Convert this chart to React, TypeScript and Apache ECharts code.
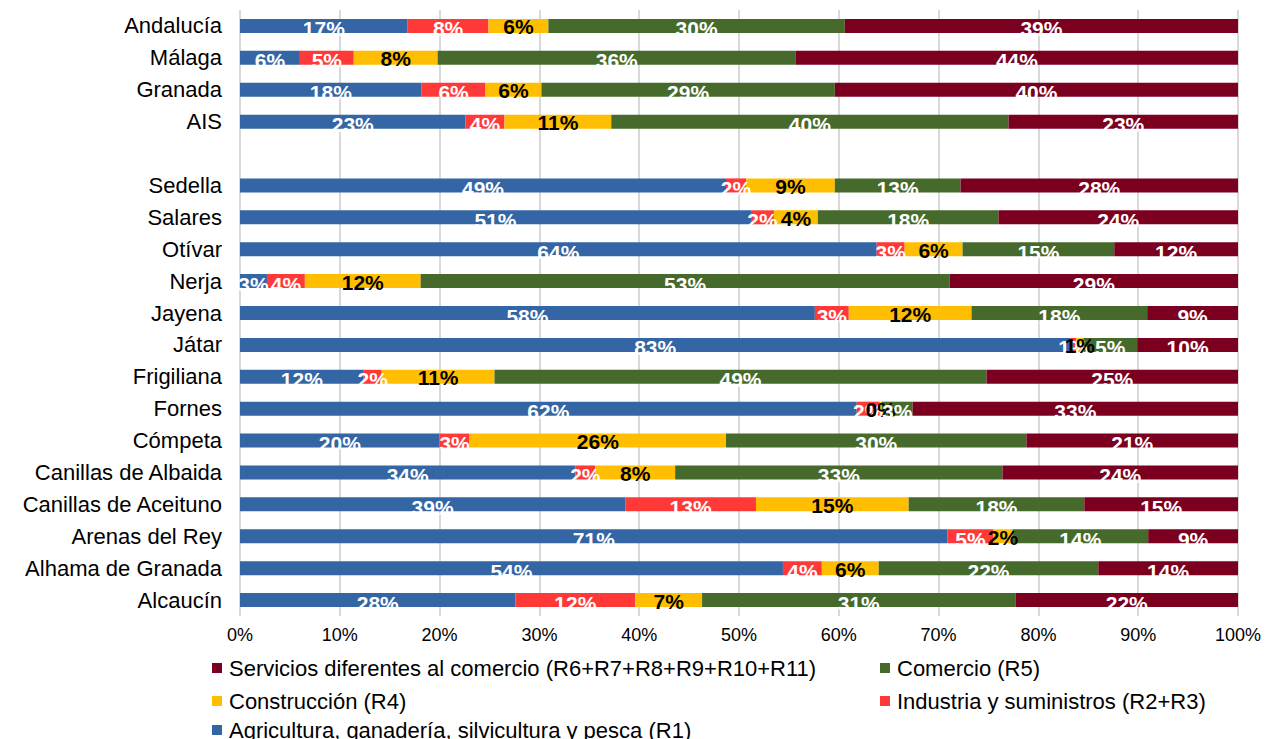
import React, { useEffect, useRef } from "react";
import * as echarts from "echarts";

const categories = [
  "Andalucía", "Málaga", "Granada", "AIS", "",
  "Sedella", "Salares", "Otívar", "Nerja", "Jayena", "Játar", "Frigiliana",
  "Fornes", "Cómpeta", "Canillas de Albaida", "Canillas de Aceituno",
  "Arenas del Rey", "Alhama de Granada", "Alcaucín",
];

const agricultura = [16.8, 6.0, 18.2, 22.6, null, 48.7, 51.2, 63.8, 2.7, 57.6, 83.2, 12.4, 61.8, 20.0, 33.6, 38.6, 70.9, 54.4, 27.6];
const industria = [8.1, 5.4, 6.4, 3.9, null, 2.0, 2.3, 2.8, 3.8, 3.4, 0.6, 1.8, 2.3, 3.0, 2.0, 13.1, 4.6, 3.9, 12.0];
const construccion = [6.0, 8.4, 5.6, 10.7, null, 8.9, 4.4, 5.8, 11.6, 12.3, 0.7, 11.3, 0.2, 25.7, 8.0, 15.3, 1.9, 5.7, 6.7];
const comercio = [29.7, 35.9, 29.4, 39.8, null, 12.6, 18.1, 15.2, 53.0, 17.6, 5.4, 49.3, 3.1, 30.1, 32.8, 17.6, 13.6, 22.0, 31.4];
const servicios = [39.4, 44.3, 40.4, 23.0, null, 27.8, 24.0, 12.4, 28.9, 9.1, 10.1, 25.2, 32.6, 21.2, 23.6, 15.4, 9.0, 14.0, 22.3];

const xTicks = ["0%", "10%", "20%", "30%", "40%", "50%", "60%", "70%", "80%", "90%", "100%"];

const names = {
  agr: "Agricultura, ganadería, silvicultura y pesca (R1)",
  ind: "Industria y suministros (R2+R3)",
  con: "Construcción (R4)",
  com: "Comercio (R5)",
  ser: "Servicios diferentes al comercio (R6+R7+R8+R9+R10+R11)",
};

const colors = {
  agr: "#3465a4",
  ind: "#ff3838",
  con: "#ffbf00",
  com: "#466a2b",
  ser: "#7b0020",
};

const FONT = "'Liberation Sans', Arial, sans-serif";

export default function App() {
  const ref = useRef<HTMLDivElement>(null);

  useEffect(() => {
    if (!ref.current) return;
    const chart = echarts.init(ref.current, null, { renderer: "svg" });

    const fmt = (p: any) =>
      p.value === null || p.value === undefined || p.value === "-" ? "" : Math.round(p.value) + "%";

    const mkSeries = (key: string, data: (number | null)[], dark: boolean) => ({
      name: (names as any)[key],
      type: "bar",
      stack: "total",
      barWidth: 14,
      data: data.map((v) => (v === null ? "-" : v)),
      itemStyle: { color: (colors as any)[key] },
      label: {
        show: true,
        position: "inside",
        formatter: fmt,
        color: dark ? "#000000" : "#ffffff",
        fontSize: 21,
        fontWeight: "bold",
        fontFamily: FONT,
        offset: dark ? [0, 1] : [0, 3],
      },
    });

    const legendItem = (key: string, left: number, top: number) => ({
      show: true,
      left,
      top,
      itemWidth: 10,
      itemHeight: 10,
      itemGap: 0,
      icon: "rect",
      data: [(names as any)[key]],
      textStyle: { fontSize: 22, fontFamily: FONT, color: "#000", padding: [0, 0, 0, 2] },
      selectedMode: false,
    });

    chart.setOption({
      animation: false,
      textStyle: { fontFamily: FONT },
      grid: { left: 240, right: 28, top: 10, height: 606, containLabel: false },
      xAxis: {
        type: "value",
        min: 0,
        max: 100,
        interval: 10,
        axisLine: { show: false },
        axisTick: { show: false },
        splitLine: { show: true, lineStyle: { color: "#d9d9d9", width: 2 } },
        axisLabel: {
          formatter: (v: number) => xTicks[Math.round(v / 10)],
          fontSize: 18,
          color: "#000",
          fontFamily: FONT,
          margin: 10,
        },
      },
      yAxis: {
        type: "category",
        inverse: true,
        data: categories,
        axisLine: { show: false },
        axisTick: { show: false },
        axisLabel: { fontSize: 22, color: "#000", fontFamily: FONT, margin: 18 },
      },
      legend: [
        legendItem("ser", 207, 652),
        legendItem("com", 875, 652),
        legendItem("con", 207, 685),
        legendItem("ind", 875, 685),
        legendItem("agr", 207, 714),
      ],
      series: [
        mkSeries("agr", agricultura, false),
        mkSeries("ind", industria, false),
        mkSeries("con", construccion, true),
        mkSeries("com", comercio, false),
        mkSeries("ser", servicios, false),
      ],
    });

    return () => chart.dispose();
  }, []);

  return (
    <div
      ref={ref}
      style={{ position: "fixed", left: 0, top: 0, width: 1266, height: 739, background: "#ffffff" }}
    />
  );
}
